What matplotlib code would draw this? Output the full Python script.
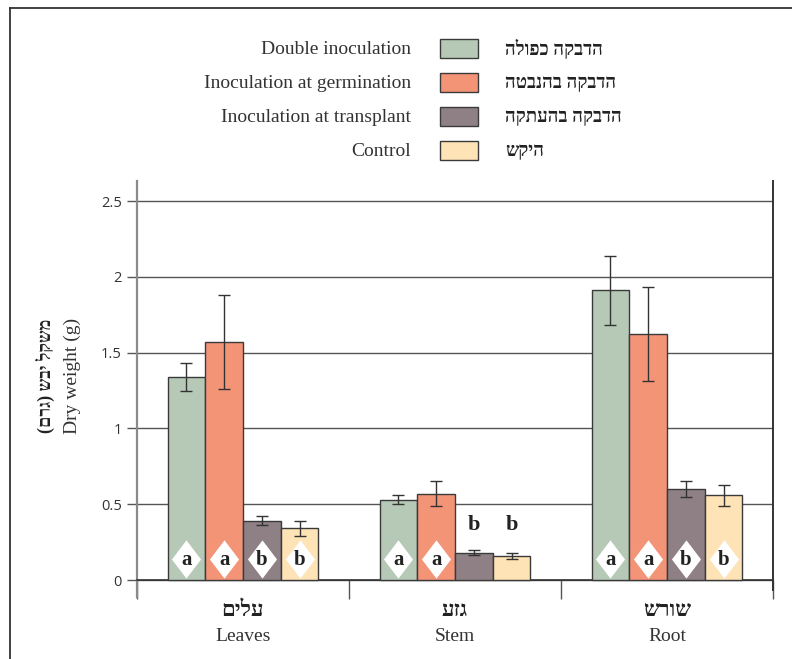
import numpy as np
import matplotlib.pyplot as plt
from matplotlib.patches import Rectangle
from matplotlib.lines import Line2D

# data
categories_en = ['Leaves', 'Stem', 'Root']
categories_he = ['עלים', 'גזע', 'שורש']
series_en = ['Double inoculation', 'Inoculation at germination',
             'Inoculation at transplant', 'Control']
series_he = ['הדבקה כפולה', 'הדבקה בהנבטה', 'הדבקה בהעתקה', 'היקש']

double_inoc = [1.34, 0.53, 1.91]
germination = [1.57, 0.57, 1.62]
transplant = [0.39, 0.18, 0.60]
control = [0.34, 0.16, 0.56]

err_double = [0.09, 0.03, 0.23]
err_germ = [0.31, 0.085, 0.31]
err_trans = [0.03, 0.015, 0.05]
err_ctrl = [0.05, 0.02, 0.07]

letters_double = ['a', 'a', 'a']
letters_germ = ['a', 'a', 'a']
letters_trans = ['b', 'b', 'b']
letters_ctrl = ['b', 'b', 'b']

values = [double_inoc, germination, transplant, control]
errors = [err_double, err_germ, err_trans, err_ctrl]
letters = [letters_double, letters_germ, letters_trans, letters_ctrl]
colors = ['#b5c9b6', '#f49477', '#8e8085', '#fee3b6']

SERIF = ['Liberation Serif', 'DejaVu Serif']
HEB = ['Liberation Serif', 'DejaVu Sans']


def heb(s):
    # matplotlib has no bidi, so flip the string by hand
    return s[::-1].translate(str.maketrans('()', ')('))


W, H = 792, 659
fig = plt.figure(figsize=(W / 100, H / 100), dpi=100)


def fx(px):
    return px / W


def fy(py):
    return 1 - py / H


# outer frame (only top and left edges visible)
fig.add_artist(Line2D([fx(10), 1], [fy(8), fy(8)], color='#333333', lw=1.3))
fig.add_artist(Line2D([fx(10), fx(10)], [fy(8), 0], color='#333333', lw=1.3))

ax = fig.add_axes([fx(137), fy(597), (773 - 137) / W, (597 - 181) / H])

x = np.arange(len(categories_en)) + 0.5
w = 0.178
for k in range(4):
    xs = x + (k - 1.5) * w
    ax.bar(xs, values[k], w, color=colors[k], edgecolor='#3a3a3a', lw=1, zorder=3)
    ax.errorbar(xs, values[k], yerr=errors[k], fmt='none', ecolor='#333333',
                elinewidth=1, capsize=4, capthick=1, zorder=4)
    for xi, v, lt in zip(xs, values[k], letters[k]):
        if v > 0.3:
            ax.scatter([xi], [0.137], marker=[(0, 1), (0.76, 0), (0, -1), (-0.76, 0), (0, 1)],
                       s=760, color='white', lw=0, zorder=5)
            ax.text(xi, 0.133, lt, ha='center', va='center', fontsize=15,
                    fontweight='bold', family=SERIF, color='#222222', zorder=6)
        else:
            ax.text(xi, 0.36, lt, ha='center', va='center', fontsize=16,
                    fontweight='bold', family=SERIF, color='#222222', zorder=6)

ax.set_xlim(0, 3)
ax.set_ylim(-0.112, 2.632)
ax.set_yticks([0, 0.5, 1, 1.5, 2, 2.5])
ax.set_yticklabels(['0', '0.5', '1', '1.5', '2', '2.5'], family='Open Sans',
                   fontsize=10.5, color='#333333')
ax.yaxis.grid(True, color='#555555', lw=1)
ax.set_axisbelow(True)
ax.tick_params(axis='y', length=7, width=1, color='#555555', pad=4)

ax.spines['top'].set_visible(False)
ax.spines['bottom'].set_position(('data', 0))
ax.spines['bottom'].set_color('#333333')
ax.spines['bottom'].set_linewidth(1.2)
ax.spines['left'].set_color('#8a8a8a')
ax.spines['left'].set_linewidth(1.6)
ax.spines['right'].set_color('#333333')
ax.spines['right'].set_linewidth(1.4)
ax.spines['right'].set_bounds(-0.066, 2.632)

ax.set_xticks([0, 1, 2, 3])
ax.set_xticklabels([])
ax.tick_params(axis='x', length=14, width=1, color='#555555', direction='out')

for xi, he, en in zip(x, categories_he, categories_en):
    ax.text(xi, -0.205, heb(he), ha='center', va='center', fontsize=16,
            fontweight='bold', family=HEB, color='#222222', clip_on=False)
    ax.text(xi, -0.372, en, ha='center', va='center', fontsize=14,
            family=SERIF, color='#333333', clip_on=False)

# y label, Hebrew and English
fig.text(fx(45), fy(376), heb('משקל יבש (גרם)'), rotation=90, ha='center', va='center',
         fontsize=13, fontweight='bold', family=HEB, color='#222222')
fig.text(fx(72), fy(376), 'Dry weight (g)', rotation=90, ha='center', va='center',
         fontsize=14, family=SERIF, color='#333333')

# legend drawn by hand
for k in range(4):
    cy = 48 + 34 * k
    fig.text(fx(411), fy(cy + 1.5), series_en[k], ha='right', va='center', fontsize=14,
             family=SERIF, color='#333333')
    fig.add_artist(Rectangle((fx(440), fy(cy + 9.5)), 38 / W, 19 / H,
                             facecolor=colors[k], edgecolor='#3a3a3a', lw=1,
                             transform=fig.transFigure))
    fig.text(fx(505), fy(cy + 1), heb(series_he[k]), ha='left', va='center', fontsize=13.5,
             fontweight='bold', family=HEB, color='#222222')

fig.savefig('out.png', dpi=100)
